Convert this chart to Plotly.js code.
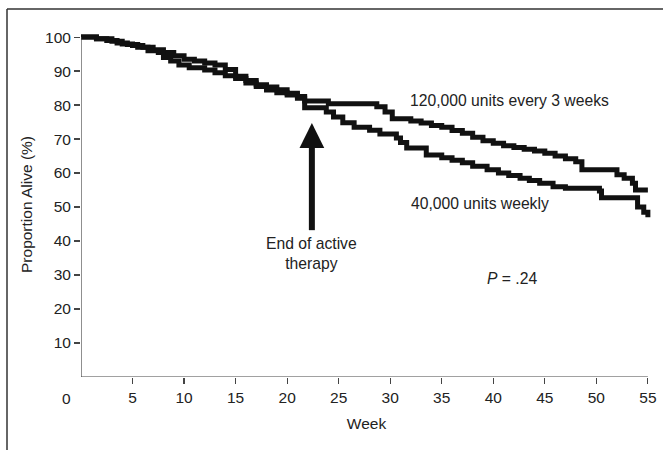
<!DOCTYPE html>
<html>
<head>
<meta charset="utf-8">
<script src="https://cdn.plot.ly/plotly-3.0.1.min.js"></script>
<style>html,body{margin:0;padding:0;background:#fff;}#chart{width:663px;height:450px;}</style>
</head>
<body>
<div id="chart"></div>
<script>
// Kaplan-Meier step data (week, proportion alive %)
const q3wWeeks  = [0, 1.5, 3, 4, 5, 6, 7, 8, 9, 10, 11, 12, 13, 14, 15, 16, 17, 18, 19, 20, 21, 21.7, 24, 28.7, 29.5, 30.2, 32, 33, 34, 35, 36, 37, 38, 39, 40, 41, 42, 43, 44, 45, 46, 47, 48, 48.6, 52, 52.7, 53.5, 53.8, 55];
const q3wValues = [100, 99.5, 98.8, 98, 97.5, 97, 96.3, 95.5, 94.5, 93.5, 93, 92.4, 91.8, 90.5, 88.5, 87.2, 86, 85.3, 84.5, 83.5, 82.5, 81.2, 80.4, 79.5, 78, 76, 75.3, 74.7, 74, 73.5, 72.5, 71.7, 70.5, 69.5, 68.8, 68, 67.5, 67, 66.5, 65.8, 65, 64.2, 63.3, 61, 59.5, 58.5, 57, 55, 55];

const weeklyWeeks  = [0, 1.5, 2.5, 3.5, 4.5, 5.5, 6.5, 7.5, 8, 8.7, 9.5, 10.5, 12, 13, 14, 15, 16, 17, 18, 19, 20, 21, 21.7, 23.8, 24.5, 25.4, 26.5, 28, 29, 30.6, 31, 31.6, 33.5, 35, 36, 37, 38, 39.4, 40.5, 41.5, 42.6, 43.5, 44.5, 45.8, 47, 50.3, 50.5, 54, 54.6, 55];
const weeklyValues = [100, 99.5, 99, 98.3, 97.8, 97, 96, 95.5, 94, 93, 91.8, 91, 90.3, 89.5, 88.6, 87.8, 86.5, 85.5, 84.4, 83.6, 83, 82, 79.2, 78, 76.5, 74.8, 73.5, 72.6, 71.5, 70.3, 69, 67.4, 65.3, 64.5, 63.8, 63, 62, 61, 60, 59.3, 58.5, 57.8, 57, 56, 55.5, 54.7, 52.7, 50, 48.5, 47];

const xTicks = [5, 10, 15, 20, 25, 30, 35, 40, 45, 50, 55];
const yTicks = [10, 20, 30, 40, 50, 60, 70, 80, 90, 100];

const seriesNames = ['120,000 units every 3 weeks', '40,000 units weekly'];

// layout geometry
const L = 81, W = 571, T = 32, B = 73, H = 450;
const PH = H - T - B;
const px = x => (x - L) / W;
const py = y => (H - B - y) / PH;

const FONT = 'Liberation Sans, Arial, Helvetica, sans-serif';
const TXT = '#222';
const LINE = '#111';
const AFS = 15.7;

const traces = [
  {x: q3wWeeks, y: q3wValues, name: seriesNames[0], mode: 'lines', line: {shape: 'hv', color: LINE, width: 5}},
  {x: weeklyWeeks, y: weeklyValues, name: seriesNames[1], mode: 'lines', line: {shape: 'hv', color: LINE, width: 5}}
];

const layout = {
  width: 663, height: 450,
  margin: {l: L, r: 663 - L - W, t: T, b: B, pad: 0},
  paper_bgcolor: '#fff', plot_bgcolor: '#fff',
  showlegend: false,
  font: {family: FONT, color: TXT, size: 16},
  xaxis: {
    range: [0, 55.4], tickvals: xTicks, ticktext: xTicks.map(String),
    ticks: 'outside', ticklen: 6, tickwidth: 1.2, tickcolor: '#444',
    showline: false, showgrid: false, zeroline: false,
    tickfont: {family: FONT, size: 15.5, color: TXT},
    title: {text: 'Week', font: {family: FONT, size: 15.5, color: TXT}, standoff: 13}
  },
  yaxis: {
    range: [0, 101.5], tickvals: yTicks, ticktext: yTicks.map(String),
    ticks: 'outside', ticklen: 6, tickwidth: 1.2, tickcolor: '#444',
    showline: false, showgrid: false, zeroline: false,
    tickfont: {family: FONT, size: 15.5, color: TXT},
    title: {text: 'Proportion Alive (%)', font: {family: FONT, size: 15.5, color: TXT}, standoff: 8}
  },
  shapes: [
    // axis lines
    {type: 'line', xref: 'x', yref: 'y', x0: 0, x1: 0, y0: 0, y1: 100, line: {color: '#444', width: 1.2}},
    {type: 'line', xref: 'x', yref: 'y', x0: 0, x1: 55, y0: 0, y1: 0, line: {color: '#444', width: 1.2}},
    // frame
    {type: 'line', xref: 'paper', yref: 'paper', x0: px(7), x1: px(663), y0: py(9), y1: py(9), line: {color: '#333', width: 1.5}},
    {type: 'line', xref: 'paper', yref: 'paper', x0: px(7), x1: px(7), y0: py(9), y1: py(450), line: {color: '#333', width: 1.5}},
    // arrow
    {type: 'line', xref: 'x', yref: 'y', x0: 22.4, x1: 22.4, y0: 43.2, y1: 68, line: {color: LINE, width: 6}},
    {type: 'path', xref: 'x', yref: 'y', path: 'M 21.2,67.4 L 22.4,74.7 L 23.6,67.4 Z', fillcolor: LINE, line: {color: LINE, width: 0}}
  ],
  annotations: [
    {xref: 'paper', yref: 'paper', x: px(66), y: py(398), text: '0', showarrow: false, xanchor: 'center', yanchor: 'middle', font: {size: 15.5}},
    {xref: 'paper', yref: 'paper', x: px(408), y: py(100), text: seriesNames[0], showarrow: false, xanchor: 'left', yanchor: 'middle', font: {size: AFS}},
    {xref: 'paper', yref: 'paper', x: px(409), y: py(203), text: seriesNames[1], showarrow: false, xanchor: 'left', yanchor: 'middle', font: {size: AFS}},
    {xref: 'paper', yref: 'paper', x: px(311), y: py(253), text: 'End of active<br>therapy', showarrow: false, xanchor: 'center', yanchor: 'middle', align: 'center', font: {size: AFS}},
    {xref: 'paper', yref: 'paper', x: px(512), y: py(278), text: '<i>P</i> = .24', showarrow: false, xanchor: 'center', yanchor: 'middle', font: {size: AFS}}
  ]
};

Plotly.newPlot('chart', traces, layout, {staticPlot: true, displayModeBar: false});
</script>
</body>
</html>
